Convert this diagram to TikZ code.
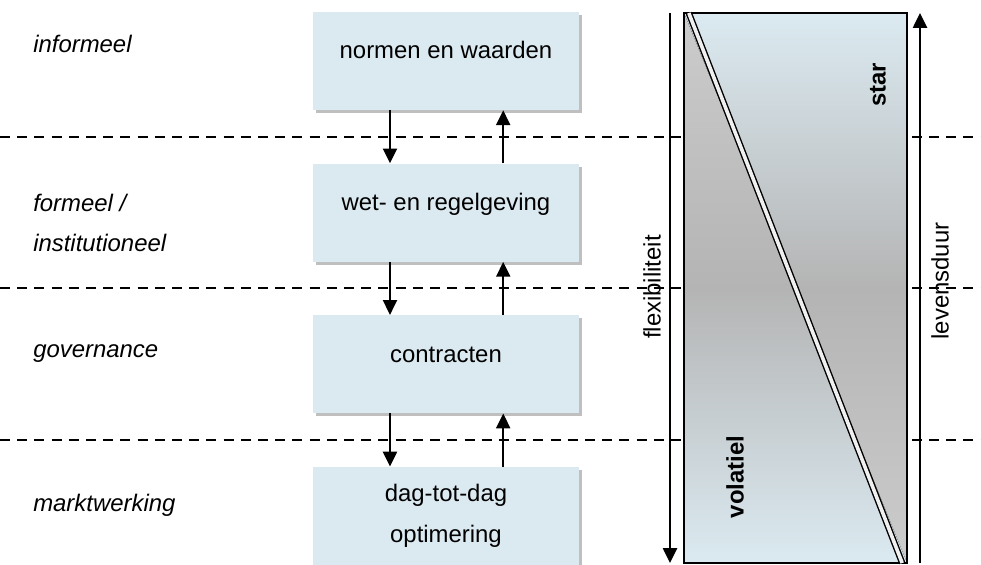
\documentclass[tikz,border=0pt]{standalone}
\usepackage{fontspec}
\setmainfont{Liberation Sans}
\usepackage{tikz}
\usetikzlibrary{positioning,arrows.meta,shadows}

\definecolor{boxblue}{RGB}{219,234,241}
\definecolor{midgray}{RGB}{180,180,180}
\definecolor{litegray}{RGB}{204,204,204}

\begin{document}
\begin{tikzpicture}[
  x=0.025cm, y=-0.025cm,
  node distance=1.325cm,
  every node/.style={font=\fontsize{17}{28.5}\selectfont},
  box/.style={
    fill=boxblue, align=center, inner sep=0pt,
    minimum width=6.65cm, minimum height=2.45cm,
    drop shadow={shadow xshift=0.08cm, shadow yshift=-0.08cm, fill=black, opacity=0.25},
  },
  oneline/.style={text height=0.45cm, text depth=0.55cm},
  niveau/.style={anchor=west, align=left, inner sep=0pt, font=\fontsize{17}{28.5}\selectfont\itshape},
  aslabel/.style={rotate=90},
  pool/.style={rotate=90, font=\fontsize{17}{28.5}\selectfont\bfseries},
  arr/.style={-{Triangle[length=0.37cm,width=0.35cm]}, line width=1.4pt},
  sep/.style={dash pattern=on 0.25cm off 0.18cm, line width=1.4pt},
]
\useasboundingbox (0,0) rectangle (981,565);

% scheidingslijnen tussen de lagen
\foreach \y in {137,288,440}
  \draw[sep] (0,\y) -- (981,\y);

% lagen
\node[box, oneline] (normen) at (446,61) {normen en waarden};
\node[box, oneline, below=of normen] (wet) {wet- en regelgeving};
\node[box, oneline, below=of wet] (contract) {contracten};
\node[box, below=of contract] (markt) {dag-tot-dag\\optimering};

\node[niveau] (inf) at (33,44) {informeel};
\node[niveau] (form) at (33,223) {formeel /\\institutioneel};
\node[niveau] (gov) at (33,354) {governance};
\node[niveau] (mkt) at (33,505) {marktwerking};

\foreach \a/\b in {normen/wet, wet/contract, contract/markt} {
  \draw[arr] ([xshift=-1.4cm]\a.south) -- ([xshift=-1.4cm]\b.north);
  \draw[arr] ([xshift=1.43cm]\b.north) -- ([xshift=1.43cm]\a.south);
}

% kolom rechts
\coordinate (nw) at (684,13);
\coordinate (se) at (907,563);
\fill[top color=boxblue, bottom color=litegray, middle color=midgray]
  (nw) -- (se |- nw) -- (se) -- cycle;
\fill[top color=litegray, bottom color=boxblue, middle color=midgray]
  (nw) -- (nw |- se) -- (se) -- cycle;
\draw[line width=1.4pt] (nw) rectangle (se);
\draw[line width=1pt, double=gray!12, double distance=0.09cm] ([xshift=0.12cm]nw) -- ([xshift=-0.12cm]se);

\node[pool] (star) at (878,85) {star};
\node[pool] (vol) at (735,477) {volatiel};

\coordinate (flextop) at (670,13);
\coordinate (flexbot) at (670,563);
\coordinate (levbot) at (920,563);
\coordinate (levtop) at (920,13);
\draw[arr] (flextop) -- (flexbot);
\draw[arr] (levbot) -- (levtop);
\node[aslabel] (flex) at (652,287) {flexibiliteit};
\node[aslabel] (lev) at (940,281) {levensduur};

\end{tikzpicture}
\end{document}
